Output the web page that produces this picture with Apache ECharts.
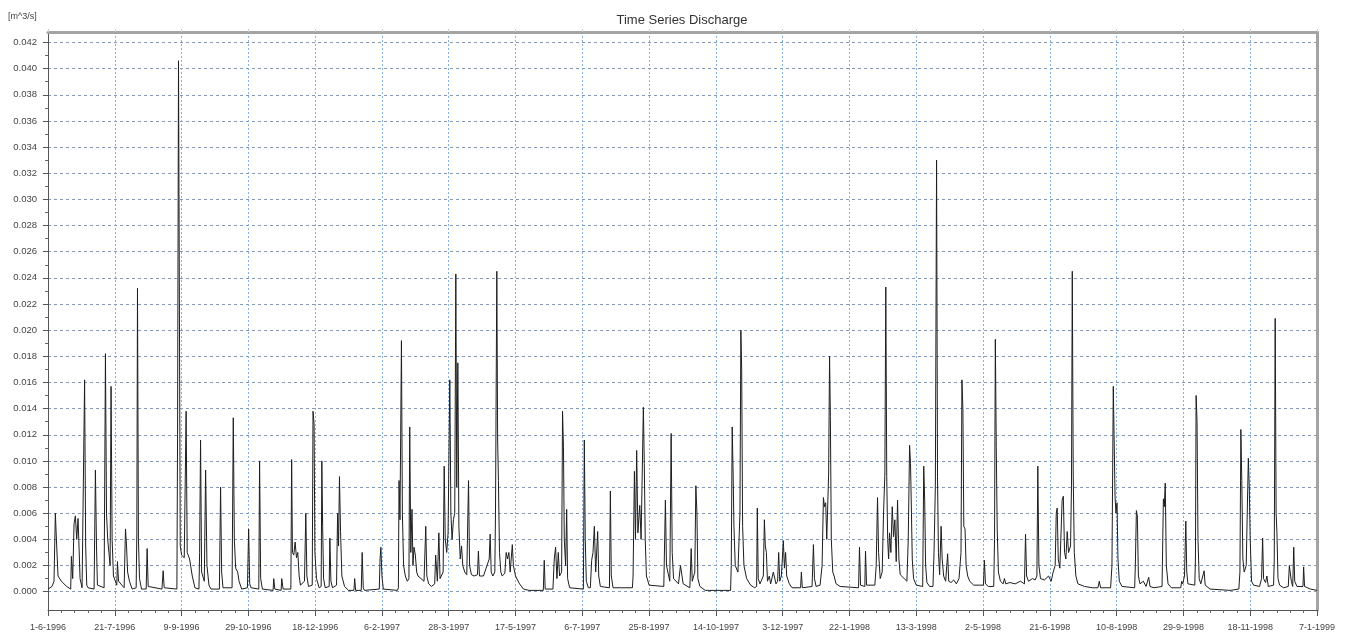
<!DOCTYPE html>
<html><head><meta charset="utf-8">
<script src="https://cdn.jsdelivr.net/npm/echarts@6/dist/echarts.min.js"></script>
<style>html,body{margin:0;padding:0;background:#fff}#c{width:1353px;height:638px}</style>
</head><body><div id="c"></div>
<script>
// Day offsets counted from 1-6-1996; one labelled tick every 50 days
const xTickLabels = ['1-6-1996','21-7-1996','9-9-1996','29-10-1996','18-12-1996','6-2-1997','28-3-1997','17-5-1997','6-7-1997','25-8-1997','14-10-1997','3-12-1997','22-1-1998','13-3-1998','2-5-1998','21-6-1998','10-8-1998','29-9-1998','18-11-1998','7-1-1999'];
const yTickValues = [0,0.002,0.004,0.006,0.008,0.010,0.012,0.014,0.016,0.018,0.020,0.022,0.024,0.026,0.028,0.030,0.032,0.034,0.036,0.038,0.040,0.042];
const yMinorTickValues = [0.001,0.003,0.005,0.007,0.009,0.011,0.013,0.015,0.017,0.019,0.021,0.023,0.025,0.027,0.029,0.031,0.033,0.035,0.037,0.039,0.041];
const titleText = 'Time Series Discharge';
const unitText = '[m^3/s]';
// [day offset, discharge m3/s]
const dischargePoints = [
[0,0.0002],[3,0.0004],[4.5,0.0008],[5.5,0.006],[6.5,0.0035],[7.5,0.0012],[10,0.0008],[14,0.0004],[17,0.0002],
[17.5,0.0027],[18.5,0.001],[19.5,0.0052],[20.5,0.0058],[21.5,0.004],[22.5,0.0056],[23,0.0041],[24,0.001],[25.5,0.0003],
[26.5,0.0003],[27.4,0.0162],[28.2,0.0035],[29,0.0005],[30,0.0003],
[34.5,0.0002],[35.5,0.0093],[36.3,0.0035],[37,0.0005],
[42,0.0003],[43,0.0182],[43.8,0.006],[44.7,0.004],[46.5,0.002],[47.2,0.0157],[48,0.004],[49,0.0012],
[51.5,0.0005],[52,0.0023],[52.8,0.0008],
[57,0.0003],[58,0.0048],[58.8,0.0035],[59.6,0.0015],[61,0.0008],[63,0.0002],
[66,0.0003],[66.5,0.0045],[67,0.0232],[67.7,0.004],[68.5,0.001],[70,0.0002],
[73.5,0.0002],[74.2,0.0033],[75,0.0004],
[85.3,0.0002],[86.2,0.0016],[87,0.0003],
[96.5,0.0002],[97,0.012],[97.7,0.0406],[98.3,0.024],[99,0.0035],[100,0.0028],[102,0.0026],
[103.4,0.0138],[104.2,0.003],[106,0.0025],[108,0.0012],[110,0.0003],
[113,0.0002],[113.5,0.003],[114.2,0.0116],[115,0.0015],[117,0.0008],[118,0.0093],[119,0.002],[120.5,0.0005],[122,0.0002],
[128.3,0.0002],[129.2,0.008],[130,0.0015],[131,0.0003],
[137.8,0.0003],[138.7,0.0133],[139.5,0.004],[140.5,0.0018],[142,0.0015],[143,0.0008],[145,0.0002],
[149.3,0.0003],[150.2,0.0048],[151,0.0006],[152,0.0003],
[157.8,0.0002],[158.4,0.010],[159.2,0.001],[160.5,0.0002],
[168.5,0.0001],[169,0.001],[169.8,0.0002],
[174.5,0.0001],[175,0.001],[176,0.0002],
[181.8,0.0002],[182.4,0.0101],[183,0.003],[184,0.0028],[185,0.0038],[186,0.0026],[187,0.003],[188,0.0012],[189,0.0005],
[192,0.0008],[193,0.006],[193.8,0.0012],[195,0.0004],
[197.8,0.0005],[198.4,0.0138],[199.2,0.0128],[199.8,0.003],[201,0.001],[203,0.0003],
[204.5,0.0004],[205,0.010],[205.6,0.005],[206.3,0.001],[207.5,0.0003],
[210.5,0.0004],[211,0.0041],[211.8,0.0008],[213,0.0003],
[216,0.0005],[216.8,0.006],[217.5,0.0035],[218.2,0.0088],[219,0.0046],[220,0.0012],[222,0.0004],[225,0.0001],
[229,0.0001],[229.6,0.001],[230.3,0.0001],
[234.5,0.0001],[235.2,0.003],[236,0.0003],[237,0.0001],
[248,0.0002],[248.6,0.0025],[249.2,0.0034],[250,0.0012],[251,0.0002],[261.5,0.0001],
[262.3,0.0003],[262.8,0.0085],[263.5,0.0055],[264.6,0.0192],[265.3,0.006],[266.2,0.002],[267.5,0.0012],[269,0.0008],
[270.2,0.001],[270.8,0.0126],[271.6,0.003],[272.5,0.0063],[273.2,0.002],[274,0.0034],[275,0.0028],[276,0.0015],[277,0.0012],
[281.5,0.0008],[282.8,0.005],[283.6,0.0012],[285,0.0006],[287,0.0004],
[289.5,0.0006],[290.2,0.0028],[291.5,0.0008],[292.6,0.0045],[293.5,0.001],
[295.8,0.0015],[296.6,0.0096],[297.4,0.004],[298.5,0.003],[299.5,0.0045],[300.8,0.0162],[301.6,0.006],[302.5,0.004],[303.5,0.0055],[304.5,0.006],[305.3,0.0243],[306,0.008],[306.8,0.0175],[307.6,0.005],[308.6,0.0025],[309.6,0.0035],[310.5,0.002],[312,0.0015],[313.5,0.0013],[314.8,0.0085],[315.6,0.002],[317,0.0013],
[319,0.0012],[321.5,0.0013],[322.2,0.0031],[323,0.0012],[326,0.0012],[328,0.0018],[330.3,0.0025],[331,0.0044],[331.8,0.0015],[333,0.0012],
[334.5,0.0015],[335,0.006],[336,0.0245],[336.6,0.0116],[337.2,0.0085],[338,0.003],[339,0.0015],[340,0.0012],
[342,0.0014],[343,0.003],[344,0.0025],[345,0.003],[346,0.0015],[347.6,0.0036],[348.4,0.002],[350,0.0012],[353,0.0006],[356,0.0002],[360,0.0001],
[370.8,0.0001],[371.5,0.0024],[372.2,0.0002],
[378,0.0002],[379,0.0025],[380,0.0034],[381,0.001],[382,0.003],[383,0.0012],
[384.5,0.0015],[385.2,0.0138],[385.9,0.011],[386.5,0.004],[387.5,0.002],[388.3,0.0063],[389,0.001],[390.5,0.0003],
[400.8,0.0002],[401.5,0.0116],[402.2,0.004],[403,0.0008],[404.5,0.0003],
[406,0.0003],[407,0.0024],[408,0.003],[409,0.005],[410,0.0015],[411.5,0.0046],[412.3,0.0012],[413.5,0.0004],
[420.3,0.0003],[421,0.0077],[421.7,0.0012],[423,0.0003],
[437.5,0.0003],[438,0.0012],[439,0.0092],[439.8,0.004],[440.7,0.0108],[441.6,0.0045],[443,0.0066],[444,0.004],[445.7,0.0141],[446.4,0.0098],[447.1,0.004],[448,0.0012],[450,0.0005],
[461,0.0004],[462.2,0.007],[463,0.002],[465.5,0.0008],[466.5,0.0121],[467.3,0.003],[468.3,0.001],
[472,0.0006],[473.5,0.002],[474.5,0.0019],[475.5,0.0006],
[480.5,0.0003],[481.5,0.0033],[482.3,0.0008],[484.2,0.0015],[485,0.0081],[485.8,0.006],[486.5,0.001],[488,0.0004],[492,0.0001],
[511,0.0001],[511.5,0.002],[512.2,0.0126],[512.9,0.009],[513.5,0.005],[514.5,0.002],[516.5,0.0015],[518,0.006],[518.7,0.020],[519.3,0.017],[520,0.005],[521,0.002],[523,0.001],[526,0.0005],[529,0.0003],
[530.5,0.0004],[531,0.0064],[531.7,0.001],[533,0.0006],[535.5,0.0012],[536.3,0.0055],[537,0.0035],[537.8,0.003],[538.6,0.0008],[540,0.0012],[541,0.0006],[543,0.0015],[545,0.0006],
[546.2,0.0008],[547,0.003],[547.8,0.0008],[549,0.0012],[550.5,0.0039],[551.3,0.0018],[552.2,0.003],[553,0.0012],[555,0.0006],[557,0.0003],
[563.4,0.0003],[564,0.0015],[564.7,0.0003],
[572,0.0004],[573,0.0036],[573.8,0.001],[575,0.0004],
[578,0.0005],[579.5,0.002],[580.5,0.0072],[581.3,0.0065],[582.2,0.0068],[583,0.004],[584.4,0.009],[585.1,0.018],[585.7,0.0134],[586.4,0.004],[587.5,0.0015],[588.5,0.0012],[590,0.0006],[593,0.0004],
[606.8,0.0003],[607.5,0.0034],[608.3,0.0005],[611.5,0.0004],[612,0.0031],[612.8,0.0005],
[619,0.0005],[620,0.002],[621,0.0072],[621.8,0.003],[623,0.001],[624.5,0.0015],[625.5,0.006],[626.5,0.009],[627.2,0.0233],[627.9,0.0088],[628.6,0.004],[629.3,0.0025],[630,0.0045],[631,0.003],[632,0.0065],[633,0.0042],[634,0.0055],[635,0.0023],[636,0.007],[637,0.0025],[638,0.0013],
[641,0.001],[643,0.0008],[644,0.004],[645,0.0112],[645.7,0.0098],[646.4,0.006],[647,0.0025],[648,0.001],[650,0.0005],
[654.8,0.0004],[655.6,0.0096],[656.3,0.007],[657,0.002],[658,0.0007],[660,0.0004],
[662.5,0.0004],[663.3,0.003],[664.3,0.0081],[665.2,0.033],[665.9,0.0088],[666.6,0.003],[667.5,0.0013],[668.6,0.005],[669.4,0.0025],[670.5,0.0012],[672,0.0008],[673.5,0.0029],[674.3,0.0008],[676,0.0007],[678,0.0009],
[680,0.0006],[682,0.001],[683.5,0.003],[684.2,0.0162],[684.9,0.014],[685.6,0.005],[686.5,0.0048],[687.3,0.002],[688.5,0.0012],[690,0.0008],[693,0.0005],
[700.3,0.0005],[701,0.0024],[701.8,0.0006],[704,0.0004],
[708,0.0004],[708.6,0.004],[709.2,0.0193],[709.9,0.011],[710.6,0.0048],[711.5,0.0015],[713,0.0008],[715,0.0006],[716,0.001],[717,0.0006],[720,0.0007],[724,0.0006],[728,0.0008],
[731,0.0006],[731.8,0.0044],[732.6,0.0012],[734,0.0008],[737,0.001],[739,0.0009],
[740.3,0.0012],[741,0.0096],[741.8,0.002],[743,0.001],[746,0.0009],[749,0.0012],[751,0.0008],
[752.5,0.0015],[754,0.002],[754.8,0.006],[755.5,0.0064],[756.3,0.0025],[757.5,0.0018],[759.2,0.007],[760.1,0.0073],[761,0.003],[762,0.0025],[763,0.0046],[764,0.003],[765.5,0.0035],[766.2,0.008],[766.8,0.0245],[767.5,0.009],[768.3,0.003],[769.5,0.0012],[771,0.0006],[776,0.0004],[782,0.0003],
[786,0.0003],[787,0.0008],[788,0.0003],
[795.5,0.0003],[796.5,0.002],[797.5,0.0157],[798.1,0.012],[798.8,0.0073],[799.5,0.006],[800.3,0.0068],[801,0.0025],[802,0.0008],[804,0.0004],
[813.5,0.0003],[814,0.002],[814.8,0.0062],[815.5,0.0058],[816.3,0.0012],[817.5,0.0006],[820,0.0008],[822,0.0004],
[823,0.0003],[824,0.0011],[825,0.0004],[828,0.0003],
[834,0.0004],[835,0.0071],[835.7,0.0065],[836.4,0.0083],[837.2,0.002],[838.5,0.0006],[841,0.0003],
[848,0.0003],[848.7,0.0008],[849.5,0.0006],[850.8,0.0012],[851.8,0.0054],[852.5,0.0015],[853.4,0.0006],
[858.5,0.0005],[859,0.0025],[859.5,0.015],[860.2,0.013],[860.9,0.004],[861.8,0.001],[863,0.0006],[865.5,0.0016],[866.3,0.0005],[870,0.0002],[885,0.0001],
[891.5,0.0002],[892.3,0.0015],[893,0.0124],[893.7,0.0085],[894.5,0.0025],[895.5,0.0015],[897,0.002],[898.6,0.0102],[899.3,0.008],[900,0.004],[901,0.0008],[902.5,0.0005],
[907,0.0004],[908.5,0.001],[909.3,0.0041],[910,0.001],[911.5,0.0007],[912.5,0.0012],[913.5,0.0004],
[917.5,0.0005],[918,0.0025],[918.7,0.0209],[919.4,0.006],[920,0.0045],[920.8,0.001],[922,0.0005],[925,0.0003],
[928.5,0.0004],[929.3,0.002],[930,0.0019],[930.8,0.0008],[931.8,0.0004],[932.6,0.0034],[933.3,0.0008],[935,0.0004],[939.5,0.0004],[940,0.0019],[940.7,0.0004],[945,0.0002],[950,0.0001]
];

const chart = echarts.init(document.getElementById('c'), null, {renderer:'canvas'});
const FONT = 'Liberation Sans, Arial, sans-serif';
const yMin = -0.0014, yMax = 0.0428;
const option = {
  animation: false,
  backgroundColor: '#ffffff',
  grid: {left: 48, right: 36, top: 32, bottom: 28, containLabel: false},
  graphic: [
    {type:'text', left: 8, top: 12, style:{text: unitText, font: '9px ' + FONT, fill:'#444'}},
    {type:'text', x: 682, y: 20, style:{text: titleText, font: '13px ' + FONT, fill:'#333', textAlign:'center', textVerticalAlign:'middle'}}
  ],
  xAxis: [
    {type:'value', min:0, max:950, interval:50, position:'bottom',
     axisLine:{show:true, onZero:false, lineStyle:{color:'#555', width:1}},
     axisTick:{show:true, length:6, lineStyle:{color:'#555'}},
     minorTick:{show:true, splitNumber:5, length:3, lineStyle:{color:'#666'}},
     axisLabel:{fontSize:9, fontFamily:FONT, color:'#444', margin:13, showMinLabel:true, showMaxLabel:true,
       formatter: v => xTickLabels[Math.round(v/50)] || ''},
     splitLine:{show:true, lineStyle:{color:'#86b2e0', type:[2,2], width:1}}
    },
    {type:'value', min:0, max:950, interval:50, position:'top',
     axisLine:{show:true, onZero:false, lineStyle:{color:'#a3a3a3', width:3}},
     axisTick:{show:true, length:3, lineStyle:{color:'#cfcfcf'}},
     axisLabel:{show:false}, splitLine:{show:false}
    }
  ],
  yAxis: [
    {type:'value', min:yMin, max:yMax, position:'left',
     axisLine:{show:true, onZero:false, lineStyle:{color:'#555', width:1}},
     axisTick:{show:true, length:5, customValues:yTickValues, lineStyle:{color:'#555'}},
     axisLabel:{customValues:yTickValues, fontSize:9.5, fontFamily:FONT, color:'#444', margin:11,
       formatter: v => v.toFixed(3)},
     splitLine:{show:true, lineStyle:{color:'#8597b8', type:[3,3], width:1}}
    },
    {type:'value', min:yMin, max:yMax, position:'left',
     axisLine:{show:false, onZero:false},
     axisTick:{show:true, length:3, customValues:yMinorTickValues, lineStyle:{color:'#666'}},
     axisLabel:{show:false}, splitLine:{show:false}
    },
    {type:'value', min:yMin, max:yMax, position:'right',
     axisLine:{show:true, onZero:false, lineStyle:{color:'#a3a3a3', width:3}},
     axisTick:{show:false}, axisLabel:{show:false}, splitLine:{show:false}
    }
  ],
  series: [{
    type:'line', xAxisIndex:0, yAxisIndex:0, data: dischargePoints,
    showSymbol:false, symbol:'none', smooth:false,
    lineStyle:{color:'#1e1e1e', width:1}, z:5
  }]
};
chart.setOption(option);
</script></body></html>
